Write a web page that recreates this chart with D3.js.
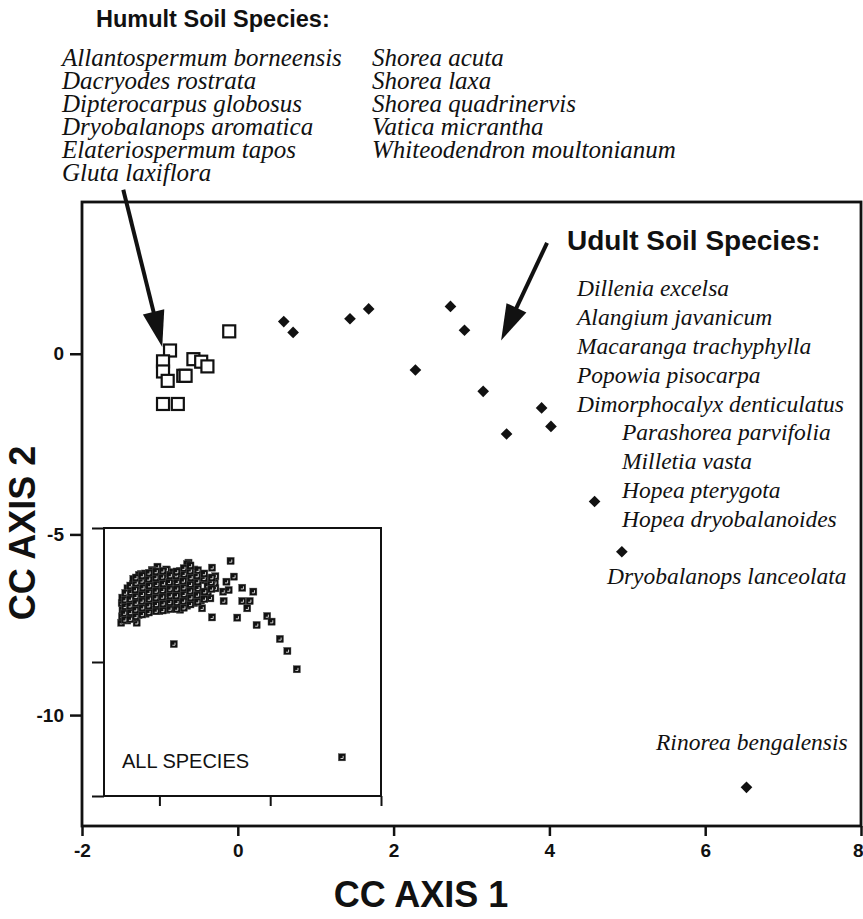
<!DOCTYPE html>
<html>
<head>
<meta charset="utf-8">
<script src="https://cdn.jsdelivr.net/npm/d3@7/dist/d3.min.js"></script>
<style>
  body { margin: 0; background: #fff; }
</style>
</head>
<body>
<div id="chart"></div>
<script>
// tick values
var xTicks = [-2, 0, 2, 4, 6, 8];
var yTicks = [0, -5, -10];
var insetXTicks = [0, 4, 8];
var insetYTicks = [5, -5, -15];

// humult soil species (open squares)
var humultX = [-0.11, -0.87, -0.96, -0.96, -0.90, -0.70, -0.67, -0.57, -0.47, -0.39, -0.96, -0.77];
var humultY = [0.62, 0.09, -0.21, -0.49, -0.75, -0.61, -0.61, -0.15, -0.22, -0.35, -1.39, -1.39];

// udult soil species (filled diamonds)
var udultX = [0.59, 0.71, 1.44, 1.68, 2.73, 2.91, 2.28, 3.15, 3.90, 4.02, 3.45, 4.58, 4.93, 6.53];
var udultY = [0.89, 0.59, 0.97, 1.24, 1.31, 0.65, -0.45, -1.04, -1.50, -2.01, -2.22, -4.09, -5.48, -12.0];

// inset: all species (scattered ones first, then the dense cloud)
var insetX = [-1.38, -0.82, 0.52, 2.57, 1.90, 1.05, -0.07, -0.27, -0.66, 0.27, 2.69, 2.42, 2.99, 3.39,
  2.99, 3.26, 3.17, 2.81, 1.90, 1.54, 1.84, 1.54, 2.32, 2.30, 2.50, 2.02, 1.90, 3.51, 3.89, 4.05,
  4.35, 4.62, 4.96, 6.59,
  -1.35, -1.33, -1.36, -1.34, -1.16, -1.14, -1.15, -1.17, -1.13, -1.15,
  -0.95, -0.96, -0.94, -0.95, -0.93, -0.96, -0.94,
  -0.75, -0.74, -0.76, -0.75, -0.73, -0.76, -0.74,
  -0.50, -0.52, -0.49, -0.51, -0.50, -0.48, -0.51,
  -0.25, -0.26, -0.24, -0.25, -0.27, -0.24, -0.25,
  0.00, 0.02, -0.01, 0.01, 0.00, -0.02, 0.01,
  0.25, 0.26, 0.24, 0.25, 0.27, 0.24, 0.25,
  0.50, 0.49, 0.51, 0.50, 0.52, 0.49, 0.50,
  0.75, 0.76, 0.74, 0.75, 0.73, 0.76, 0.74,
  1.00, 1.01, 0.99, 1.00, 1.02, 0.99, 1.00,
  1.25, 1.24, 1.26, 1.25, 1.23, 1.26,
  1.50, 1.49, 1.51, 1.50,
  1.75, 1.74, 1.76, 2.00, 2.02,
  -1.25, -1.26, -1.24, -1.25, -1.23,
  -1.05, -1.04, -1.06, -1.05, -1.03, -1.05,
  -0.85, -0.86, -0.84, -0.85, -0.87, -0.84, -0.85,
  -0.62, -0.61, -0.63, -0.62, -0.60, -0.63, -0.62,
  -0.38, -0.39, -0.37, -0.38, -0.36, -0.39, -0.38,
  -0.12, -0.11, -0.13, -0.12, -0.10, -0.13, -0.12,
  0.12, 0.13, 0.11, 0.12, 0.14, 0.11, 0.12,
  0.38, 0.37, 0.39, 0.38, 0.36, 0.39,
  0.62, 0.63, 0.61, 0.62, 0.64, 0.61, 0.62,
  0.88, 0.87, 0.89, 0.88, 0.86, 0.89, 0.88,
  1.12, 1.13, 1.11, 1.12, 1.14, 1.11, 1.12,
  1.38, 1.37, 1.39, 1.38, 1.36, 1.39,
  1.62, 1.63, 1.61, 1.62,
  1.88, 1.87, 1.89];
var insetY = [-2.07, -2.07, -3.66, 2.54, 2.04, 2.41, 2.11, 1.87, 1.57, 1.87, 1.37, 0.99, 0.54, 0.25,
  -0.45, -0.45, -0.99, -1.69, -1.67, -0.99, -0.25, -0.17, -0.45, 0.25, 0.37, 0.50, 0.99, -2.24, -1.57, -1.99,
  -3.28, -4.18, -5.54, -12.11,
  -1.60, -1.10, -0.60, -0.20, -1.90, -1.40, -0.90, -0.40, 0.10, 0.50,
  -1.70, -1.20, -0.70, -0.20, 0.30, 0.80, 1.20,
  -1.50, -1.00, -0.50, 0.00, 0.50, 1.00, 1.50,
  -1.40, -0.90, -0.40, 0.10, 0.60, 1.10, 1.60,
  -1.20, -0.70, -0.20, 0.30, 0.80, 1.30, 1.80,
  -1.20, -0.70, -0.20, 0.30, 0.80, 1.30, 1.70,
  -1.10, -0.60, -0.10, 0.40, 0.90, 1.40, 1.90,
  -1.00, -0.50, 0.00, 0.50, 1.00, 1.50, 1.70,
  -1.10, -0.60, -0.10, 0.40, 0.90, 1.40, 1.80,
  -0.80, -0.30, 0.20, 0.70, 1.20, 1.70, 2.30,
  -0.60, -0.10, 0.40, 0.90, 1.40, 1.90,
  -0.40, 0.10, 1.10, 1.50,
  0.20, 0.70, 1.20, 0.90, 1.40,
  -1.85, -1.35, -0.85, -0.35, 0.15,
  -1.80, -1.30, -0.80, -0.30, 0.20, 0.70,
  -1.60, -1.10, -0.60, -0.10, 0.40, 0.90, 1.30,
  -1.45, -0.95, -0.45, 0.05, 0.55, 1.05, 1.45,
  -1.30, -0.80, -0.30, 0.20, 0.70, 1.20, 1.65,
  -1.20, -0.70, -0.20, 0.30, 0.80, 1.30, 1.75,
  -1.15, -0.65, -0.15, 0.35, 0.85, 1.35, 1.80,
  -1.05, -0.55, -0.05, 0.45, 0.95, 1.45,
  -1.05, -0.55, -0.05, 0.45, 0.95, 1.45, 1.75,
  -0.95, -0.45, 0.05, 0.55, 1.05, 1.55, 2.00,
  -0.70, -0.20, 0.30, 0.80, 1.30, 1.80, 2.20,
  -0.50, 0.00, 0.50, 1.00, 1.45, 1.85,
  -0.30, 0.25, 1.25, 1.60,
  0.45, 0.95, 1.30];

// species names
var humultCol1 = ["Allantospermum borneensis", "Dacryodes rostrata", "Dipterocarpus globosus",
  "Dryobalanops aromatica", "Elateriospermum tapos", "Gluta laxiflora"];
var humultCol2 = ["Shorea acuta", "Shorea laxa", "Shorea quadrinervis", "Vatica micrantha",
  "Whiteodendron moultonianum"];
var udultNames = ["Dillenia excelsa", "Alangium javanicum", "Macaranga trachyphylla", "Popowia pisocarpa",
  "Dimorphocalyx denticulatus", "Parashorea parvifolia", "Milletia vasta", "Hopea pterygota",
  "Hopea dryobalanoides", "Dryobalanops lanceolata", "Rinorea bengalensis"];

var width = 863, height = 919;
var sans = "'Liberation Sans', Arial, Helvetica, sans-serif";
var serif = "'Liberation Serif', 'Times New Roman', Times, serif";
var ink = "#111";

var svg = d3.select("#chart").append("svg")
    .attr("width", width)
    .attr("height", height);

var x = d3.scaleLinear().domain([-2, 8]).range([82, 861]);
var y = d3.scaleLinear().domain([-13.07, 4.2]).range([826, 202]);

// inset scales
var xi = d3.scaleLinear().domain([-2, 8]).range([104, 381]);
var yi = d3.scaleLinear().domain([-15, 5]).range([796, 528]);

// main axes
var xAxis = svg.append("g")
    .attr("transform", "translate(0," + y.range()[0] + ")")
    .call(d3.axisBottom(x).tickValues(xTicks).tickSize(10).tickSizeOuter(0).tickPadding(8)
        .tickFormat(function(d) { return String(d); }));
var yAxis = svg.append("g")
    .attr("transform", "translate(" + x.range()[0] + ",0)")
    .call(d3.axisLeft(y).tickValues(yTicks).tickSize(12).tickSizeOuter(0).tickPadding(6)
        .tickFormat(function(d) { return String(d); }));
[xAxis, yAxis].forEach(function(g) {
    g.select(".domain").remove();
    g.selectAll(".tick line").attr("stroke", ink).attr("stroke-width", 2.5);
    g.selectAll(".tick text")
        .attr("fill", ink)
        .style("font-family", sans)
        .style("font-weight", "bold")
        .style("font-size", "19px");
});
// last label sits against the right edge
xAxis.selectAll(".tick text")
    .filter(function(d) { return d === 8; })
    .attr("text-anchor", "end")
    .attr("x", 2);

// frame
svg.append("rect")
    .attr("x", x.range()[0])
    .attr("y", y.range()[1])
    .attr("width", x.range()[1] - x.range()[0])
    .attr("height", y.range()[0] - y.range()[1])
    .attr("fill", "none")
    .attr("stroke", ink)
    .attr("stroke-width", 2.8);

// inset
svg.append("rect")
    .attr("x", xi.range()[0])
    .attr("y", yi.range()[1])
    .attr("width", xi.range()[1] - xi.range()[0])
    .attr("height", yi.range()[0] - yi.range()[1])
    .attr("fill", "#fff")
    .attr("stroke", ink)
    .attr("stroke-width", 2);

var ixAxis = svg.append("g")
    .attr("transform", "translate(0," + yi.range()[0] + ")")
    .call(d3.axisBottom(xi).tickValues(insetXTicks).tickSize(10).tickSizeOuter(0).tickFormat(""));
var iyAxis = svg.append("g")
    .attr("transform", "translate(" + xi.range()[0] + ",0)")
    .call(d3.axisLeft(yi).tickValues(insetYTicks).tickSize(12).tickSizeOuter(0).tickFormat(""));
[ixAxis, iyAxis].forEach(function(g) {
    g.select(".domain").remove();
    g.selectAll(".tick line").attr("stroke", ink).attr("stroke-width", 2);
});

var insetPts = svg.append("g").selectAll("g")
    .data(insetX.map(function(v, i) { return [v, insetY[i]]; }))
    .enter().append("g")
    .attr("transform", function(d) { return "translate(" + xi(d[0]) + "," + yi(d[1]) + ")"; });
insetPts.append("rect")
    .attr("x", -3.6).attr("y", -3.6)
    .attr("width", 7.2).attr("height", 7.2)
    .attr("fill", ink)
    .attr("stroke", "#555")
    .attr("stroke-width", 0.4);
insetPts.append("path")
    .attr("d", "M1.2,-1.4V1.2H-1.4")
    .attr("fill", "none")
    .attr("stroke", "#fff")
    .attr("stroke-width", 0.8);

svg.append("text")
    .attr("x", 122)
    .attr("y", 768)
    .style("font-family", sans)
    .style("font-size", "20px")
    .attr("fill", ink)
    .text("ALL SPECIES");

// main points
svg.append("g").selectAll("rect")
    .data(humultX.map(function(v, i) { return [v, humultY[i]]; }))
    .enter().append("rect")
    .attr("x", function(d) { return x(d[0]) - 6; })
    .attr("y", function(d) { return y(d[1]) - 6; })
    .attr("width", 12)
    .attr("height", 12)
    .attr("fill", "#fff")
    .attr("stroke", ink)
    .attr("stroke-width", 2.2);

svg.append("g").selectAll("path")
    .data(udultX.map(function(v, i) { return [v, udultY[i]]; }))
    .enter().append("path")
    .attr("d", d3.symbol(d3.symbolSquare, 68))
    .attr("transform", function(d) { return "translate(" + x(d[0]) + "," + y(d[1]) + ") rotate(45)"; })
    .attr("fill", ink);

// arrows
function arrow(x0, y0, x1, y1) {
    var px0 = x(x0), py0 = y(y0), px1 = x(x1), py1 = y(y1);
    var dx = px1 - px0, dy = py1 - py0, len = Math.sqrt(dx * dx + dy * dy);
    var ux = dx / len, uy = dy / len;
    var headLen = 36, headW = 11;
    var bx = px1 - ux * headLen, by = py1 - uy * headLen;
    svg.append("line")
        .attr("x1", px0).attr("y1", py0)
        .attr("x2", bx + ux * 2).attr("y2", by + uy * 2)
        .attr("stroke", ink)
        .attr("stroke-width", 4);
    svg.append("path")
        .attr("d", "M" + px1 + "," + py1 +
            "L" + (bx - uy * headW) + "," + (by + ux * headW) +
            "L" + (bx + uy * headW) + "," + (by - ux * headW) + "Z")
        .attr("fill", ink);
}
arrow(-1.47, 4.54, -0.97, 0.19);
arrow(3.97, 3.07, 3.38, 0.37);

// humult labels
svg.append("text")
    .attr("x", 96).attr("y", 27)
    .style("font-family", sans)
    .style("font-weight", "bold")
    .style("font-size", "23.5px")
    .attr("fill", ink)
    .text("Humult Soil Species:");

function italicList(names, xPos, yPos, size) {
    svg.append("g").selectAll("text")
        .data(names)
        .enter().append("text")
        .attr("x", function(d, i) { return Array.isArray(xPos) ? xPos[i] : xPos; })
        .attr("y", function(d, i) { return yPos[i]; })
        .style("font-family", serif)
        .style("font-style", "italic")
        .style("font-size", size + "px")
        .attr("fill", ink)
        .text(function(d) { return d; });
}
var humultRows = [66, 89, 112, 135, 158, 181];
italicList(humultCol1, 62, humultRows, 25);
italicList(humultCol2, 372, humultRows, 25);

// udult labels
svg.append("text")
    .attr("x", 567).attr("y", 250)
    .style("font-family", sans)
    .style("font-weight", "bold")
    .style("font-size", "28px")
    .attr("fill", ink)
    .text("Udult Soil Species:");

italicList(udultNames,
    [577, 577, 577, 577, 577, 622, 622, 622, 622, 607, 656],
    [296, 325, 354, 383, 412, 440, 469, 498, 527, 584, 750], 23.5);

// axis titles
svg.append("text")
    .attr("x", 421).attr("y", 907)
    .attr("text-anchor", "middle")
    .style("font-family", sans)
    .style("font-weight", "bold")
    .style("font-size", "36px")
    .attr("fill", ink)
    .text("CC AXIS 1");

svg.append("text")
    .attr("transform", "translate(35,533) rotate(-90)")
    .attr("text-anchor", "middle")
    .style("font-family", sans)
    .style("font-weight", "bold")
    .style("font-size", "36px")
    .attr("fill", ink)
    .text("CC AXIS 2");
</script>
</body>
</html>
